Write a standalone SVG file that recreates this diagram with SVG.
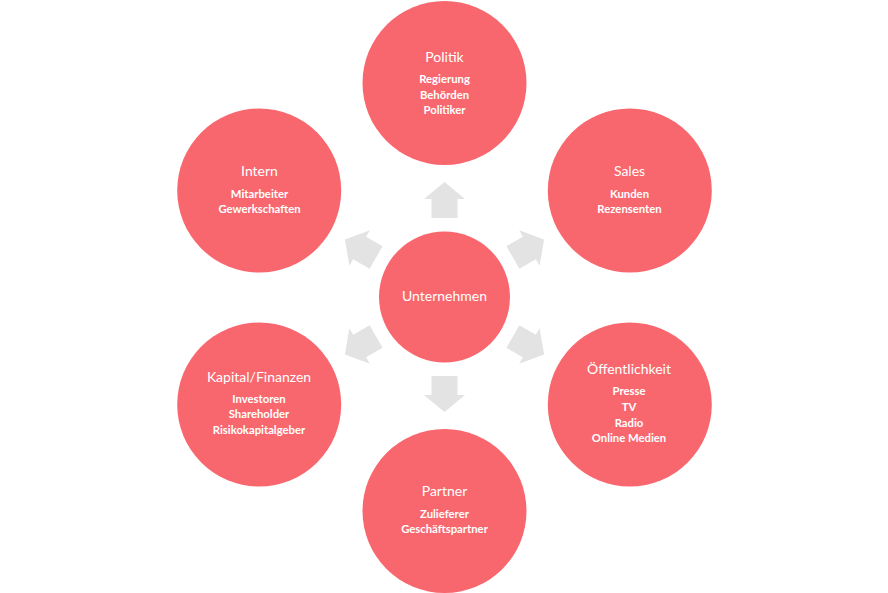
<svg xmlns="http://www.w3.org/2000/svg" width="888" height="593" viewBox="0 0 888 593">
<style>
.c{fill:#f9676e}
.a{fill:#e3e3e3}
text{fill:#fff;font-family:Lato,"Open Sans","Liberation Sans",sans-serif;text-anchor:middle}
.t{font-size:14px}
.s{font-size:11.3px;font-weight:bold}
</style>
<defs>
<path id="arr" d="M0,-115 L20.5,-98 L13,-98 L13,-79 L-13,-79 L-13,-98 L-20.5,-98 Z"/>
</defs>
<rect width="888" height="593" fill="#fff"/>
<g id="connectors" class="a">
<use href="#arr" transform="translate(444.5,297)"/>
<use href="#arr" transform="translate(444.5,297) rotate(60)"/>
<use href="#arr" transform="translate(444.5,297) rotate(120)"/>
<use href="#arr" transform="translate(444.5,297) rotate(180)"/>
<use href="#arr" transform="translate(444.5,297) rotate(240)"/>
<use href="#arr" transform="translate(444.5,297) rotate(300)"/>
</g>
<g id="unternehmen">
<circle class="c" cx="444.5" cy="297" r="65.5"/>
<text class="t" x="444.5" y="301">Unternehmen</text>
</g>
<g id="politik">
<circle class="c" cx="444.5" cy="83" r="82"/>
<text class="t" x="444.5" y="61.7">Politik</text>
<text class="s" x="444.5" y="83.3">Regierung</text>
<text class="s" x="444.5" y="99">Behörden</text>
<text class="s" x="444.5" y="114">Politiker</text>
</g>
<g id="sales">
<circle class="c" cx="629.8" cy="190.5" r="82"/>
<text class="t" x="629.5" y="176">Sales</text>
<text class="s" x="629.5" y="197.7">Kunden</text>
<text class="s" x="629.5" y="213.3">Rezensenten</text>
</g>
<g id="oeffentlichkeit">
<circle class="c" cx="629.8" cy="404.5" r="82"/>
<text class="t" x="629" y="374">Öffentlichkeit</text>
<text class="s" x="629" y="395">Presse</text>
<text class="s" x="629" y="410.5">TV</text>
<text class="s" x="629" y="426.5">Radio</text>
<text class="s" x="629" y="442">Online Medien</text>
</g>
<g id="partner">
<circle class="c" cx="444.5" cy="511" r="82"/>
<text class="t" x="444.5" y="496">Partner</text>
<text class="s" x="444.5" y="517.7">Zulieferer</text>
<text class="s" x="444.5" y="533.3">Geschäftspartner</text>
</g>
<g id="kapital">
<circle class="c" cx="259.2" cy="404.5" r="82"/>
<text class="t" x="259" y="381.7">Kapital/Finanzen</text>
<text class="s" x="259" y="402.7">Investoren</text>
<text class="s" x="259" y="418.3">Shareholder</text>
<text class="s" x="259" y="434">Risikokapitalgeber</text>
</g>
<g id="intern">
<circle class="c" cx="259.2" cy="190.5" r="82"/>
<text class="t" x="259.5" y="176">Intern</text>
<text class="s" x="259.5" y="197.7">Mitarbeiter</text>
<text class="s" x="259.5" y="213.3">Gewerkschaften</text>
</g>
</svg>
